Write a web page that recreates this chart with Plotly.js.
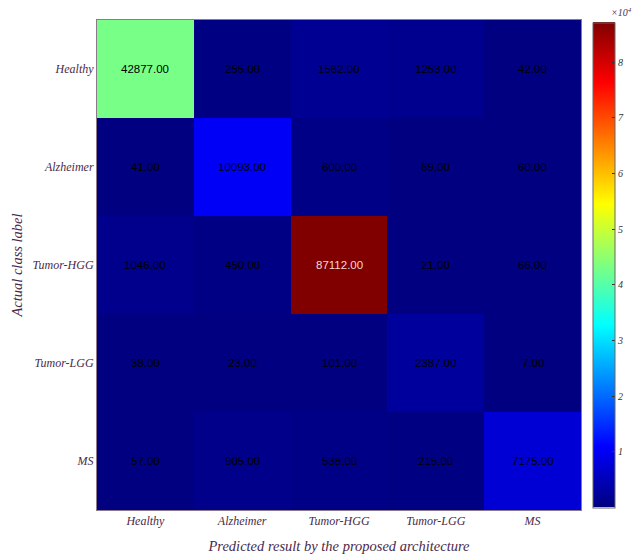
<!DOCTYPE html>
<html><head><meta charset="utf-8">
<script src="https://cdn.plot.ly/plotly-3.0.1.min.js"></script>
<style>html,body{margin:0;padding:0;background:#fff}#c{width:640px;height:559px}</style>
</head><body><div id="c"></div>
<script>
const predictedLabels = ['Healthy','Alzheimer','Tumor-HGG','Tumor-LGG','MS'];
const actualLabels = ['Healthy','Alzheimer','Tumor-HGG','Tumor-LGG','MS'];
const rowHealthy  = [42877, 255, 1562, 1253, 42];
const rowAlzheimer = [41, 10093, 600, 69, 60];
const rowTumorHGG = [1046, 450, 87112, 21, 66];
const rowTumorLGG = [38, 23, 101, 2387, 7];
const rowMS       = [57, 905, 538, 215, 7175];
const matrix = [rowHealthy, rowAlzheimer, rowTumorHGG, rowTumorLGG, rowMS];
const cbTickVals = [10000,20000,30000,40000,50000,60000,70000,80000];
const cbTickText = ['1','2','3','4','5','6','7','8'];

const jet = [
  [0,'rgb(0,0,128)'],[0.125,'rgb(0,0,255)'],[0.375,'rgb(0,255,255)'],
  [0.625,'rgb(255,255,0)'],[0.875,'rgb(255,0,0)'],[1,'rgb(128,0,0)']
];
const zmax = Math.max(...matrix.flat());
const zmin = 0;

const ann = [];
matrix.forEach((row,i)=>row.forEach((v,j)=>{
  ann.push({x:predictedLabels[j], y:actualLabels[i], text:v.toFixed(2), showarrow:false,
    font:{family:'Liberation Sans, Arial, sans-serif', size:11.5, color:(v/zmax>0.85)?'#f0d8d8':'#000'}});
}));
ann.push({xref:'paper', yref:'paper', x:1.11, y:1.0, xanchor:'right', yanchor:'bottom',
  text:'<i>×10<sup>4</sup></i>', showarrow:false, font:{family:'Liberation Serif, serif', size:10, color:'#503050'}});

const tickFont = {family:'Liberation Serif, DejaVu Serif, serif', size:12, color:'#4a2a4a', style:'italic'};

Plotly.newPlot('c', [{
  type:'heatmap', x:predictedLabels, y:actualLabels, z:matrix,
  colorscale:jet, zmin:zmin, zmax:zmax, xgap:0, ygap:0, hoverinfo:'z',
  colorbar:{x:1.0247, xanchor:'left', y:0.5, yanchor:'middle', lenmode:'pixels', len:485,
    thicknessmode:'pixels', thickness:22, outlinewidth:1, outlinecolor:'#666',
    tickvals:cbTickVals, ticktext:cbTickText, ticks:'inside', ticklen:3, tickcolor:'#333',
    tickfont:{family:'Liberation Serif, serif', size:10, color:'#333', style:'italic'}, xpad:0, ypad:0}
}], {
  width:640, height:559,
  margin:{l:97, r:57, t:20, b:49},
  paper_bgcolor:'#fff', plot_bgcolor:'#fff',
  font:{family:'Liberation Serif, serif'},
  xaxis:{type:'category', tickfont:tickFont, ticks:'', showline:true, linecolor:'#8a7a8a', mirror:true,
    title:{text:'<i>Predicted result by the proposed architecture</i>', font:{family:'Liberation Serif, serif', size:14.5, color:'#4a2a4a'}, standoff:13}},
  yaxis:{type:'category', autorange:'reversed', tickfont:tickFont, ticks:'', showline:true, linecolor:'#8a7a8a', mirror:true,
    title:{text:'<i>Actual class label</i>', font:{family:'Liberation Serif, serif', size:14.5, color:'#4a2a4a'}, standoff:6}},
  annotations:ann
}, {displayModeBar:false, staticPlot:true});
</script></body></html>
